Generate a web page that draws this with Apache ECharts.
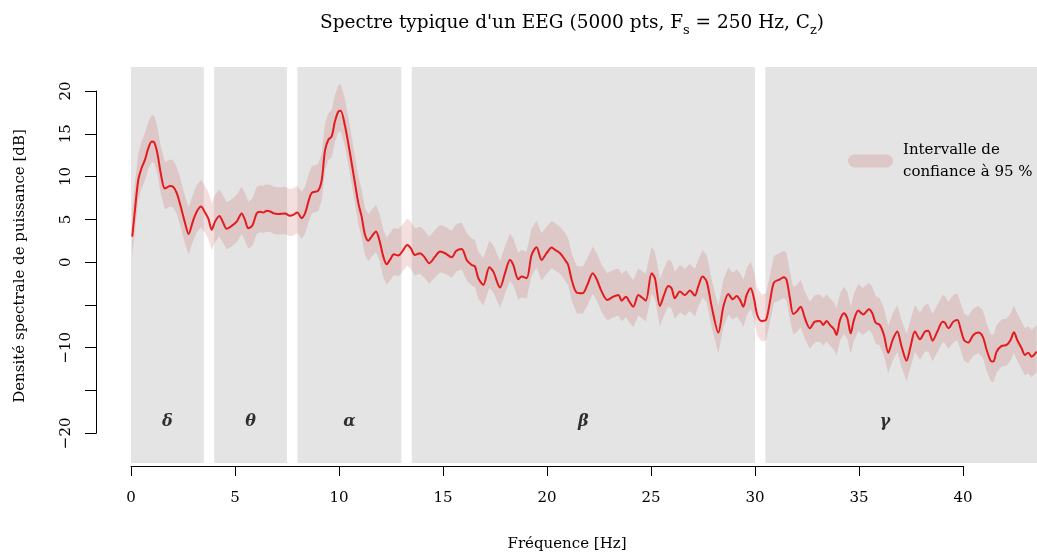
<!DOCTYPE html>
<html>
<head>
<meta charset="utf-8">
<title>Spectre EEG</title>
<script src="https://cdn.jsdelivr.net/npm/echarts@6/dist/echarts.min.js"></script>
<style>
  html, body { margin: 0; padding: 0; background: #fff; }
  #chart { width: 1037px; height: 553px; }
</style>
</head>
<body>
<div id="chart"></div>
<script>
// fréquences (Hz) et densité spectrale (dB)
const freqHz = [
  0.06, 0.19, 0.35, 0.51, 0.67, 0.83, 1.0, 1.12, 1.27, 1.43, 1.63, 1.88, 2.03, 2.2, 2.39, 2.6, 2.77, 2.97, 3.16, 3.37,
  3.56, 3.72, 3.88, 4.04, 4.25, 4.41, 4.6, 4.84, 5.08, 5.32, 5.48, 5.64, 5.85, 6.04, 6.2, 6.36, 6.52, 6.72, 6.88, 7.08,
  7.4, 7.64, 7.8, 8.0, 8.2, 8.37, 8.53, 8.69, 9.0, 9.17, 9.33, 9.49, 9.65, 9.8, 9.97, 10.08, 10.29, 10.53, 10.77, 10.93,
  11.09, 11.25, 11.41, 11.57, 11.78, 11.94, 12.13, 12.29, 12.45, 12.64, 12.85, 13.06, 13.28, 13.45, 13.65, 13.89, 14.09, 14.34, 14.62, 14.86,
  15.1, 15.42, 15.63, 15.9, 16.14, 16.38, 16.54, 16.7, 16.94, 17.23, 17.42, 17.74, 17.98, 18.22, 18.38, 18.62, 18.78, 19.02, 19.26, 19.5,
  19.74, 19.98, 20.23, 20.39, 20.63, 20.87, 21.02, 21.19, 21.43, 21.72, 21.94, 22.2, 22.39, 22.63, 22.9, 23.19, 23.43, 23.59, 23.8, 23.96,
  24.15, 24.39, 24.55, 24.75, 25.03, 25.19, 25.43, 25.63, 25.83, 25.99, 26.15, 26.39, 26.63, 26.87, 27.11, 27.27, 27.48, 27.68, 27.92, 28.24,
  28.48, 28.72, 28.93, 29.12, 29.28, 29.44, 29.6, 29.79, 29.95, 30.11, 30.32, 30.53, 30.72, 30.91, 31.2, 31.39, 31.52, 31.68, 31.84, 32.0,
  32.2, 32.4, 32.64, 32.88, 33.12, 33.28, 33.45, 33.6, 33.8, 33.92, 34.09, 34.28, 34.44, 34.6, 34.76, 34.97, 35.2, 35.48, 35.64, 35.8,
  36.0, 36.2, 36.41, 36.62, 36.84, 37.05, 37.29, 37.48, 37.69, 37.93, 38.17, 38.33, 38.54, 38.77, 39.02, 39.13, 39.3, 39.54, 39.73, 39.9,
  40.05, 40.25, 40.5, 40.74, 40.95, 41.14, 41.33, 41.46, 41.62, 41.86, 42.1, 42.29, 42.45, 42.61, 42.82, 42.98, 43.14, 43.3, 43.54
];
const psdDb = [
  3.0, 6.1, 9.6, 11.0, 11.95, 13.3, 14.1, 14.0, 12.7, 10.4, 8.6, 8.9, 8.8, 8.06, 6.5, 4.56, 3.3, 4.74, 5.9, 6.5,
  5.8, 5.1, 3.8, 4.74, 5.4, 4.74, 3.9, 4.24, 4.74, 5.7, 4.94, 3.97, 4.36, 5.7, 5.9, 5.8, 6.0, 5.9, 5.7, 5.64,
  5.7, 5.44, 5.53, 5.8, 5.14, 5.72, 7.08, 8.1, 8.37, 9.6, 13.1, 14.3, 14.7, 16.4, 17.6, 17.7, 15.9, 12.7, 9.2, 6.9,
  5.33, 3.2, 2.52, 3.0, 3.6, 2.6, 0.65, -0.24, 0.27, 0.93, 0.77, 1.32, 2.0, 1.64, 0.85, 1.05, 0.65, -0.12, 0.65, 1.24,
  1.05, 0.58, 1.32, 1.55, 0.27, -0.32, -0.5, -1.87, -2.65, -0.58, -1.1, -2.96, -1.3, 0.25, -0.32, -1.99, -1.68, -1.87, 0.85, 1.75,
  0.27, 1.05, 1.71, 1.44, 1.05, 0.27, -0.32, -2.07, -3.55, -3.62, -2.65, -1.29, -1.99, -3.43, -4.4, -4.02, -3.82, -4.49, -4.02, -4.6,
  -5.19, -3.82, -4.09, -4.49, -1.29, -1.87, -5.1, -3.82, -2.77, -3.04, -4.2, -3.43, -3.85, -3.3, -3.9, -2.85, -1.68, -2.27, -5.19, -8.22,
  -5.19, -3.7, -4.32, -3.94, -4.4, -5.19, -3.82, -3.04, -4.2, -6.16, -6.86, -6.74, -4.6, -2.38, -1.99, -1.75, -2.07, -4.2, -6.04, -5.77,
  -5.19, -6.54, -7.71, -6.94, -6.86, -7.32, -6.86, -7.32, -7.83, -8.5, -6.74, -5.96, -6.54, -8.3, -6.74, -5.65, -6.1, -5.49, -5.96, -7.06,
  -7.32, -8.5, -10.56, -9.08, -8.1, -9.86, -11.5, -9.86, -8.1, -9.0, -8.1, -7.99, -9.16, -8.1, -6.94, -7.06, -7.71, -6.94, -6.74, -7.91,
  -9.08, -9.39, -8.5, -8.22, -8.69, -10.25, -11.5, -11.61, -10.44, -9.78, -9.66, -9.08, -8.18, -9.08, -10.05, -10.83, -10.56, -11.03, -10.44
];
// demi-largeurs de l'intervalle de confiance (dB)
const ciUpperDb = 3.1;
const ciLowerDb = 2.4;

// bandes de fréquence
const bandStart = [0, 4, 8, 13.5, 30.5];
const bandEnd = [3.5, 7.5, 13, 30, 42];
const bandSymbols = ['δ', 'θ', 'α', 'β', 'γ'];

const yTickLabels = [20, 15, 10, 5, 0, -10, -20];

const FONT = 'DejaVu Serif';
const xMax = 43.56;
const yMin = -23.45, yMax = 22.8;

const chart = echarts.init(document.getElementById('chart'), null, { renderer: 'canvas' });

const option = {
  backgroundColor: '#fff',
  animation: false,
  title: {
    text: 'Spectre typique d\'un EEG (5000 pts, F{s|s} = 250 Hz, C{s|z})',
    left: 567,
    top: 5,
    textAlign: 'center',
    textStyle: {
      fontFamily: FONT, fontSize: 18.5, fontWeight: 'normal', color: '#000', lineHeight: 27,
      rich: {
        s: { fontFamily: FONT, fontSize: 13, color: '#000', verticalAlign: 'bottom', lineHeight: 27 }
      }
    }
  },
  legend: {
    left: 848,
    top: 139,
    padding: 0,
    itemWidth: 45,
    itemHeight: 13,
    icon: 'path://M6.5,0H38.5A6.5,6.5,0,0,1,38.5,13H6.5A6.5,6.5,0,0,1,6.5,0Z',
    data: ['IC95'],
    formatter: () => 'Intervalle de\nconfiance à 95 %',
    textStyle: { fontFamily: FONT, fontSize: 15, color: '#000', lineHeight: 22, padding: [0, 0, 0, 5] }
  },
  grid: [
    { left: 131, right: 0, top: 67, height: 396 },
    { left: 96, width: 10, top: 91, height: 342.3 },
    { left: 131, width: 832, top: 456, height: 10 }
  ],
  xAxis: [
    { gridIndex: 0, type: 'value', min: 0, max: xMax, show: false },
    { gridIndex: 1, type: 'value', min: 0, max: 1, show: false },
    {
      gridIndex: 2, type: 'value', min: 0, max: 40, interval: 5,
      axisLine: { show: true, onZero: false, lineStyle: { color: '#000', width: 1 } },
      axisTick: { show: true, length: 10, lineStyle: { color: '#000' } },
      axisLabel: { margin: 25, color: '#000', fontFamily: FONT, fontSize: 15 },
      splitLine: { show: false }
    }
  ],
  yAxis: [
    { gridIndex: 0, type: 'value', min: yMin, max: yMax, show: false },
    {
      gridIndex: 1, type: 'value', min: -20, max: 20, interval: 5,
      axisLine: { show: true, onZero: false, lineStyle: { color: '#000', width: 1 } },
      axisTick: { show: true, length: 11, lineStyle: { color: '#000' } },
      axisLabel: {
        rotate: 90, margin: 22, color: '#000', fontFamily: FONT, fontSize: 15,
        formatter: v => yTickLabels.includes(v) ? (v < 0 ? '\u2212' + Math.abs(v) : String(v)) : ''
      },
      splitLine: { show: false }
    },
    { gridIndex: 2, type: 'value', min: 0, max: 1, show: false }
  ],
  graphic: [
    {
      type: 'text', x: 567, y: 544,
      style: { text: 'Fréquence [Hz]', font: '15px "' + FONT + '"', fill: '#000', textAlign: 'center', textVerticalAlign: 'middle' }
    },
    {
      type: 'text', x: 20, y: 266, rotation: Math.PI / 2,
      style: { text: 'Densité spectrale de puissance [dB]', font: '15px "' + FONT + '"', fill: '#000', textAlign: 'center', textVerticalAlign: 'middle' }
    }
  ],
  series: [
    // bandes grises
    {
      type: 'custom',
      xAxisIndex: 0, yAxisIndex: 0,
      silent: true,
      z: 1,
      data: bandStart.map((s, i) => [s, bandEnd[i]]),
      renderItem: (params, api) => {
        const cs = params.coordSys;
        const x0 = api.coord([api.value(0), 0])[0];
        let x1 = api.coord([api.value(1), 0])[0];
        if (params.dataIndex === bandStart.length - 1) x1 = cs.x + cs.width;
        return {
          type: 'rect',
          shape: { x: x0, y: cs.y, width: x1 - x0, height: cs.height },
          style: { fill: '#e4e4e4' }
        };
      }
    },
    // intervalle de confiance
    {
      name: 'IC95',
      type: 'custom',
      xAxisIndex: 0, yAxisIndex: 0,
      silent: true,
      clip: true,
      z: 2,
      itemStyle: { color: 'rgba(178,34,34,0.15)' },
      data: freqHz.map((f, i) => [f, psdDb[i]]),
      renderItem: (params, api) => {
        if (params.dataIndex !== 0) return null;
        const pts = [];
        for (let i = 0; i < freqHz.length; i++) pts.push(api.coord([freqHz[i], psdDb[i] + ciUpperDb]));
        for (let i = freqHz.length - 1; i >= 0; i--) pts.push(api.coord([freqHz[i], psdDb[i] - ciLowerDb]));
        return { type: 'polygon', shape: { points: pts, smooth: 0 }, style: { fill: api.visual('color') } };
      }
    },
    // spectre
    {
      name: 'DSP',
      type: 'line',
      xAxisIndex: 0, yAxisIndex: 0,
      z: 3,
      showSymbol: false,
      smooth: 0.3,
      clip: true,
      lineStyle: { color: '#e41a1c', width: 2 },
      data: freqHz.map((f, i) => [f, psdDb[i]])
    },
    // lettres des bandes
    {
      type: 'scatter',
      xAxisIndex: 0, yAxisIndex: 0,
      z: 4,
      symbolSize: 0,
      silent: true,
      data: bandStart.map((s, i) => [(s + bandEnd[i]) / 2, -18.7]),
      label: {
        show: true, position: 'inside',
        formatter: p => bandSymbols[p.dataIndex],
        fontFamily: FONT, fontStyle: 'italic', fontWeight: 'bold', fontSize: 16, color: '#000'
      }
    }
  ]
};

chart.setOption(option);
</script>
</body>
</html>
